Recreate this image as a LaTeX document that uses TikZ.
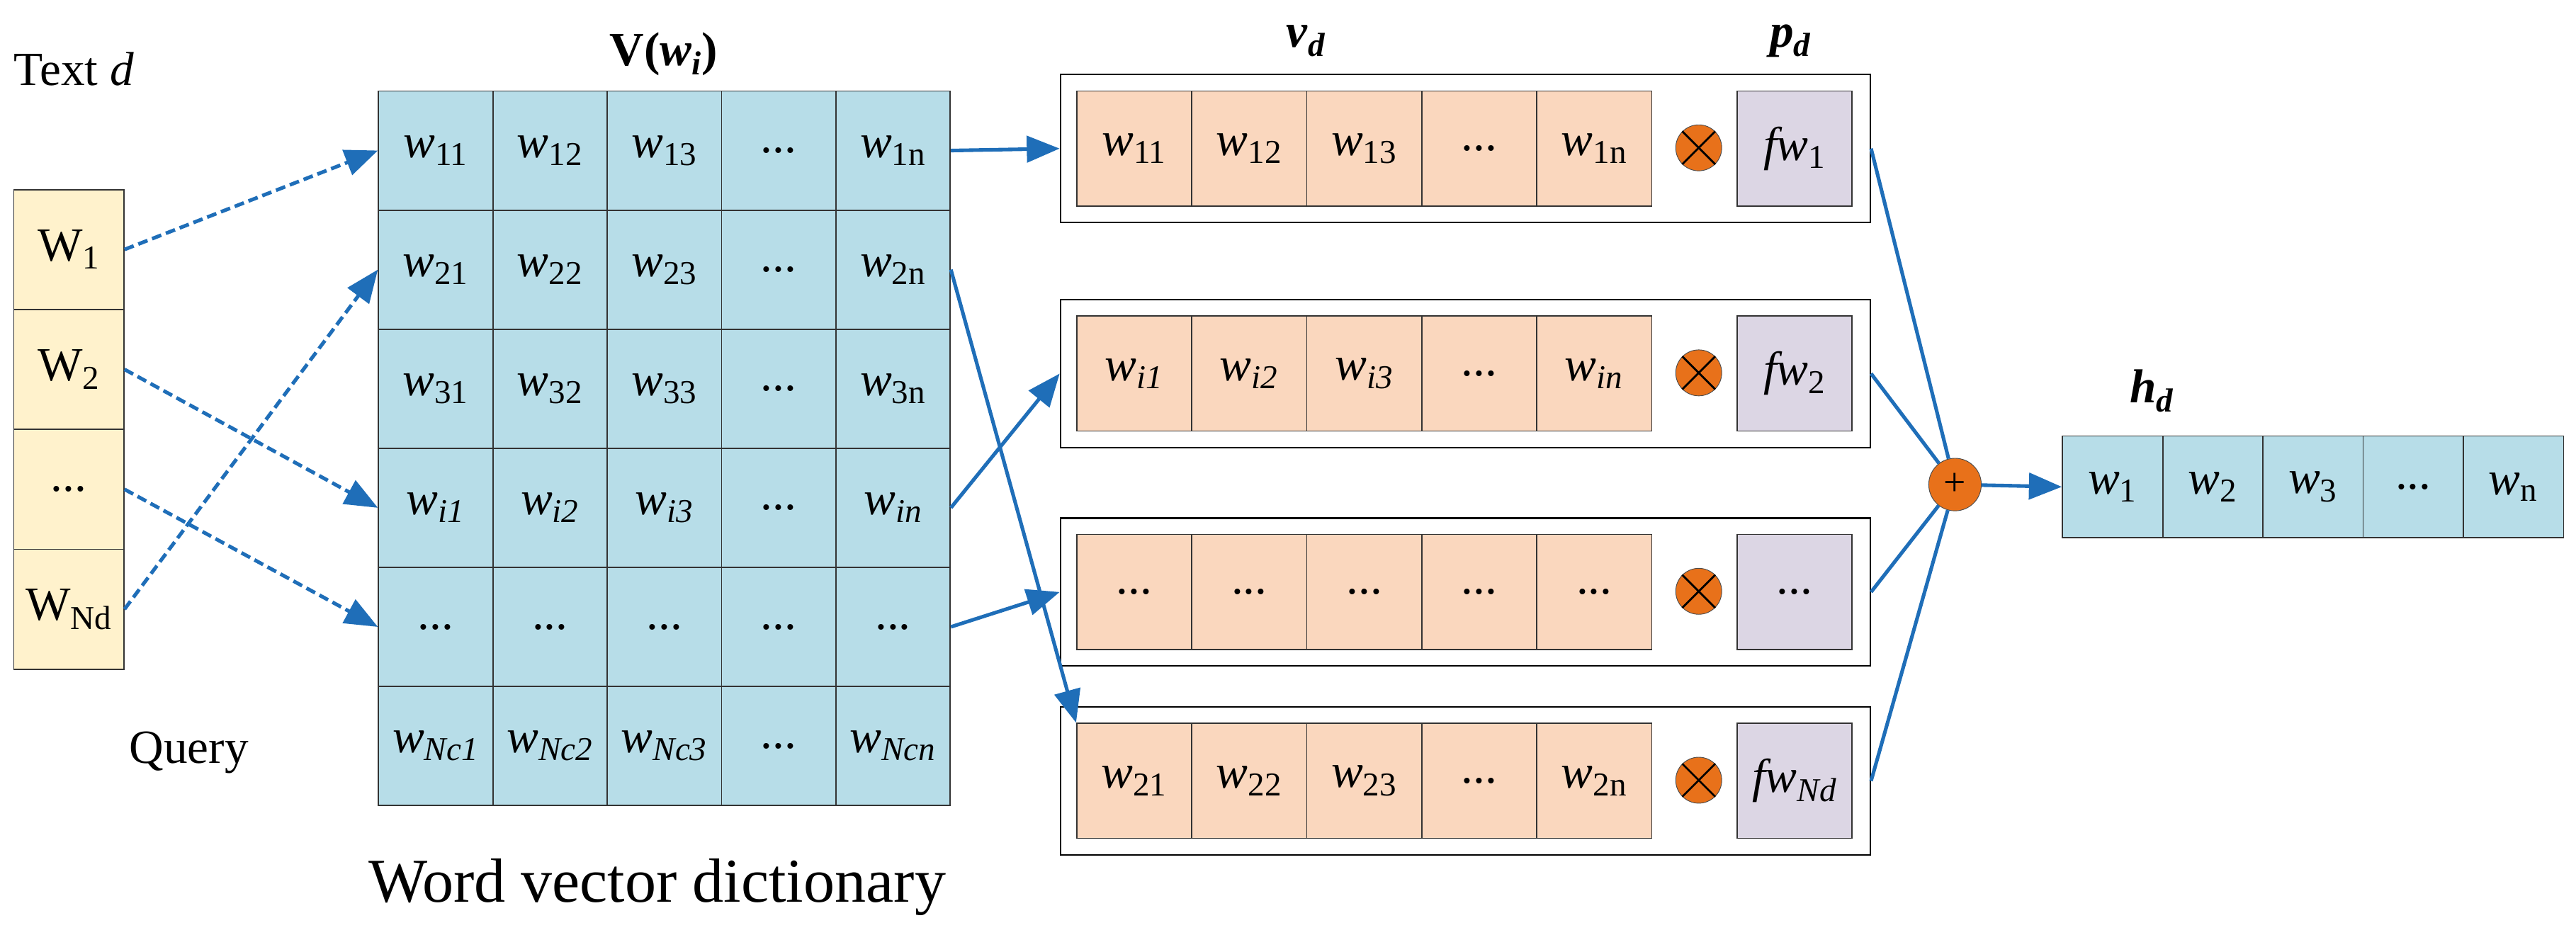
\documentclass[tikz,border=0pt]{standalone}
\usepackage{fontspec}
\setmainfont{Liberation Serif}
\usetikzlibrary{arrows.meta}
\definecolor{cb}{HTML}{B7DDE8}
\definecolor{co}{HTML}{FAD7BE}
\definecolor{cp}{HTML}{DCD6E4}
\definecolor{cy}{HTML}{FFF2CC}
\definecolor{ln}{HTML}{1F6EB8}
\definecolor{oc}{HTML}{E8711A}
\newcommand\dd{...}
\newcommand\ww[1]{\textit{w}\textsubscript{#1}}
\newcommand\wi[1]{\textit{w}\textsubscript{\textit{#1}}}
\newcommand\bi[2]{\textbf{\textit{#1}}\textsubscript{\textbf{\textit{#2}}}}
\begin{document}
\begin{tikzpicture}[x=1pt,y=-1pt,
 cell/.style={draw=black!80,line width=0.8pt,minimum width=69.6pt,minimum height=72.5pt,inner sep=0pt,font=\fontsize{29}{30}\selectfont,anchor=north west},
 cellB/.style={cell,fill=cb},
 cellO/.style={cell,fill=co,minimum width=70pt,minimum height=70pt},
 cellP/.style={cell,fill=cp,minimum width=70pt,minimum height=70pt},
 cellY/.style={cell,fill=cy,minimum width=67pt,minimum height=73pt},
 cellH/.style={cell,fill=cb,minimum width=61pt,minimum height=62pt},
 outer/.style={draw=black,line width=0.9pt,minimum width=493pt,minimum height=90pt,anchor=north west,inner sep=0pt},
 arr/.style={ln,line width=2.2pt,-{Triangle[length=20pt,width=16pt]}},
 darr/.style={arr,dash pattern=on 6pt off 3pt},
 cw/.style={ln,line width=2.2pt},
 lab/.style={font=\fontsize{29}{30}\selectfont}]
\useasboundingbox (0,0) rectangle (1568,569);
\node[lab] (td) at (45,42) {Text \textit{d}};
\node[lab] (q) at (115,458) {Query};
\node[lab] (V) at (404,33) {\textbf{V(\bi{w}{i})}};
\node[font=\fontsize{38}{40}\selectfont] (wvd) at (400,540) {Word vector dictionary};
% left column
\foreach \t [count=\i] in {W\textsubscript{1},W\textsubscript{2},\dd,W\textsubscript{Nd}}
  \node[cellY] (y\i) at (8,{115+(\i-1)*73}) {\t};
% matrix
\foreach \r/\row in {1/{\ww{11},\ww{12},\ww{13},\dd,\ww{1n}},
 2/{\ww{21},\ww{22},\ww{23},\dd,\ww{2n}},
 3/{\ww{31},\ww{32},\ww{33},\dd,\ww{3n}},
 4/{\wi{i1},\wi{i2},\wi{i3},\dd,\wi{in}},
 5/{\dd,\dd,\dd,\dd,\dd},
 6/{\wi{Nc1},\wi{Nc2},\wi{Nc3},\dd,\wi{Ncn}}}
 \foreach \t [count=\c] in \row
  \node[cellB] (m\r\c) at ({230+(\c-1)*69.6},{55+(\r-1)*72.5}) {\t};
% middle boxes
\foreach \b/\yy/\row/\p in {1/45/{\ww{11},\ww{12},\ww{13},\dd,\ww{1n}}/{\textit{fw}\textsubscript{1}},
 2/182/{\wi{i1},\wi{i2},\wi{i3},\dd,\wi{in}}/{\textit{fw}\textsubscript{2}},
 3/315/{\dd,\dd,\dd,\dd,\dd}/{\dd},
 4/430/{\ww{21},\ww{22},\ww{23},\dd,\ww{2n}}/{\textit{fw}\textsubscript{\textit{Nd}}}}{
 \node[outer] (o\b) at (645,\yy) {};
 \foreach \t [count=\c] in \row
  \node[cellO] (v\b\c) at ({655+(\c-1)*70},{\yy+10}) {\t};
 \node[circle,fill=oc,draw=black!70,minimum size=28pt,inner sep=0pt] (x\b) at (1034,{\yy+45}) {};
 \draw[line width=1.2pt] (x\b.north west)--(x\b.south east) (x\b.north east)--(x\b.south west);
 \node[cellP] (p\b) at (1057,{\yy+10}) {\p};
}
\node[lab] at (795,25) {\bi{v}{d}};
\node[lab] at (1090,25) {\bi{p}{d}};
\node[lab] at (1310,238) {\bi{h}{d}};
% plus
\node[circle,fill=oc,draw=black!70,minimum size=32pt,inner sep=0pt,font=\fontsize{24}{24}\selectfont] (plus) at (1190,295) {+};
% output
\foreach \t [count=\c] in {\ww{1},\ww{2},\ww{3},\dd,\ww{n}}
  \node[cellH] (h\c) at ({1255+(\c-1)*61},265) {\t};
% arrows
\draw[arr] (m15.east) -- (o1.west);
\draw[arr] (m25.east) -- (v41.north west);
\draw[arr] (m45.east) -- (o2.west);
\draw[arr] (m55.east) -- (o3.west);
\foreach \b in {1,...,4} \draw[cw] (o\b.east) -- (plus);
\draw[arr] (plus) -- (h1.west);
\draw[darr] (y1.east) -- (m11.west);
\draw[darr] (y2.east) -- (m41.west);
\draw[darr] (y3.east) -- (m51.west);
\draw[darr] (y4.east) -- (m21.west);
\end{tikzpicture}
\end{document}
